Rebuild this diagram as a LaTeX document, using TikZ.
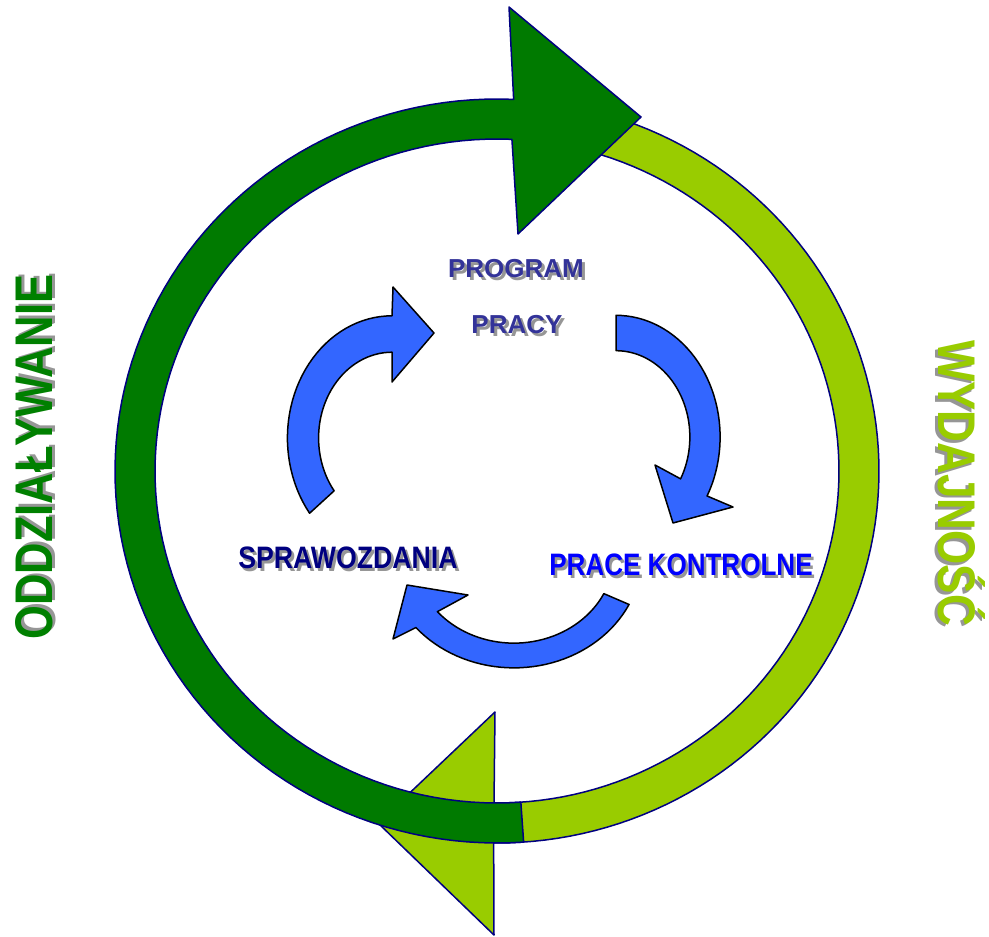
\documentclass[tikz,border=0pt]{standalone}
\usepackage{fontspec}
\setmainfont{Liberation Sans}
\usepackage{graphicx}

\definecolor{ringblue}{RGB}{0,0,128}
\definecolor{darkgreen}{RGB}{0,122,0}
\definecolor{lightgreen}{RGB}{153,204,0}
\definecolor{arrowblue}{RGB}{51,102,255}
\definecolor{programblue}{RGB}{51,51,153}
\definecolor{reportnavy}{RGB}{0,0,128}
\definecolor{testblue}{RGB}{0,0,255}
\definecolor{impactgreen}{RGB}{0,128,0}
\definecolor{shadowgray}{RGB}{150,150,150}

% text with a grey drop shadow
\newcommand{\shadowtext}[2]{\makebox[0pt][l]{\smash{\kern3pt\raisebox{-3pt}{\textcolor{shadowgray}{#2}}}}\textcolor{#1}{#2}}

\begin{document}
\begin{tikzpicture}[
    x=1pt, y=-1pt,
    ringline/.style={draw=ringblue, line width=1.5pt, line join=round},
    bluearrow/.style={draw=black, fill=arrowblue, line width=1.5pt, line join=round},
    cyclelabel/.style={inner sep=0pt, anchor=base},
    sidelabel/.style={inner sep=0pt, anchor=base}
  ]

  % Canvas
  \path[fill=white] (0,0) rectangle (989,937);

  % Outer ring, light green half
  \draw[ringline, fill=lightgreen]
    plot[domain=280:450.5, samples=90] ({497+382*cos(\x)},{471+372*sin(\x)})
    -- (494,935) -- (378,823) -- (495,712)
    -- plot[domain=450.5:280, samples=90] ({497+342*cos(\x)},{471+332*sin(\x)}) -- cycle;

  % Outer ring, dark green half
  \draw[ringline, fill=darkgreen]
    plot[domain=86:272.5, samples=90] ({497+382*cos(\x)},{471+372*sin(\x)})
    -- (509,7) -- (641,117) -- (518,234)
    -- plot[domain=272.5:86, samples=90] ({497+342*cos(\x)},{471+332*sin(\x)}) -- cycle;

  % Inner cycle arrows
  \draw[bluearrow]
    plot[domain=142:270, samples=40] ({392+1.175*89*cos(\x)},{438+1.175*104*sin(\x)})
    -- (393,287) -- (434,333) -- (392,382)
    -- plot[domain=270:142, samples=40] ({392+0.825*89*cos(\x)},{438+0.825*104*sin(\x)}) -- cycle;
  \draw[bluearrow]
    plot[domain=270:389, samples=40] ({616+1.17*89*cos(\x)},{437+1.17*104*sin(\x)})
    -- (733,507) -- (673,523) -- (655,465)
    -- plot[domain=389:270, samples=40] ({616+0.83*89*cos(\x)},{437+0.83*104*sin(\x)}) -- cycle;
  \draw[bluearrow]
    plot[domain=26:140, samples=40] ({514+1.123*114*cos(\x)},{555+1.123*100.5*sin(\x)})
    -- (393,639) -- (407,585) -- (468,595)
    -- plot[domain=140:26, samples=40] ({514+0.877*114*cos(\x)},{555+0.877*100.5*sin(\x)}) -- cycle;

  % Cycle labels
  \node[cyclelabel, font=\fontsize{26}{28}\selectfont\bfseries] (program) at (516,277)
    {\scalebox{1.0}[1]{\shadowtext{programblue}{PROGRAM}}};
  \node[cyclelabel, font=\fontsize{26}{28}\selectfont\bfseries] (pracy) at (517,333)
    {\scalebox{1.0}[1]{\shadowtext{programblue}{PRACY}}};
  \node[cyclelabel, font=\fontsize{31}{33}\selectfont\bfseries] (reports) at (348,568)
    {\scalebox{0.86}[1]{\shadowtext{reportnavy}{SPRAWOZDANIA}}};
  \node[cyclelabel, font=\fontsize{31}{33}\selectfont\bfseries] (tests) at (681,575)
    {\scalebox{0.84}[1]{\shadowtext{testblue}{PRACE KONTROLNE}}};

  % Side labels
  \node[sidelabel, rotate=90, font=\fontsize{53}{55}\selectfont\bfseries] (impact) at (52,457)
    {\scalebox{0.82}[1]{\shadowtext{impactgreen}{ODDZIAŁYWANIE}}};
  \node[sidelabel, rotate=-90, font=\fontsize{53}{55}\selectfont\bfseries] (output) at (938,483)
    {\scalebox{0.83}[1]{\shadowtext{lightgreen}{WYDAJNOŚĆ}}};

\end{tikzpicture}
\end{document}
